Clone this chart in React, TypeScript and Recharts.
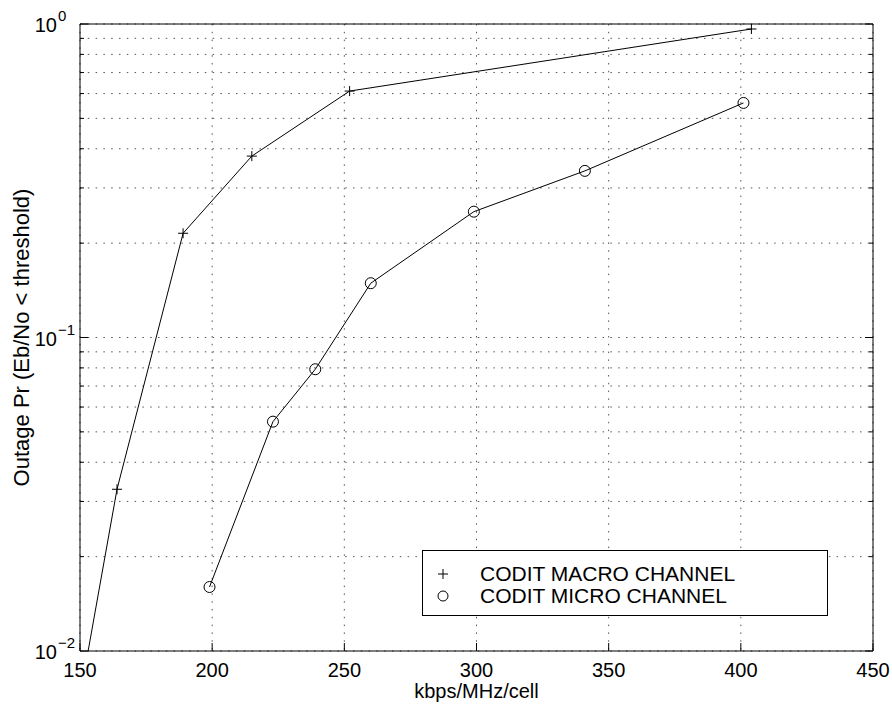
import { LineChart, Line, XAxis, YAxis, CartesianGrid, Legend } from "recharts";

const macroName = "CODIT MACRO CHANNEL";
const macroX = [152, 164, 189, 215, 252, 404];
const macroY = [0.0089, 0.0328, 0.215, 0.379, 0.611, 0.964];

const microName = "CODIT MICRO CHANNEL";
const microX = [199, 223, 239, 260, 299, 341, 401];
const microY = [0.016, 0.0539, 0.0792, 0.149, 0.252, 0.34, 0.56];

const xTicks = [150, 200, 250, 300, 350, 400, 450];
const yTicks = [
  0.01, 0.02, 0.03, 0.04, 0.05, 0.06, 0.07, 0.08, 0.09,
  0.1, 0.2, 0.3, 0.4, 0.5, 0.6, 0.7, 0.8, 0.9, 1,
];
const decades = [0.01, 0.1, 1];
const decadeExp = ["\u22122", "\u22121", "0"];

const macroData = macroX.map((x, i) => ({ x, y: macroY[i] }));
const microData = microX.map((x, i) => ({ x, y: microY[i] }));

const FONT = "'Liberation Sans', Arial, Helvetica, sans-serif";

const decadeIndex = (v: number) => decades.findIndex((d) => Math.abs(d - v) < 1e-9);

function LeftTick(props: any) {
  const { x, y, payload } = props;
  const di = decadeIndex(payload.value);
  const major = di >= 0;
  return (
    <g>
      <line x1={x} x2={x + (major ? 8 : 4)} y1={y} y2={y} stroke="#000" />
      {major && (
        <>
          <text x={x - 23} y={y + 8} textAnchor="end" fontSize={20} fill="#000">10</text>
          <text x={x - 22} y={y - 3} textAnchor="start" fontSize={15} fill="#000">{decadeExp[di]}</text>
        </>
      )}
    </g>
  );
}

function RightTick(props: any) {
  const { x, y, payload } = props;
  const major = decadeIndex(payload.value) >= 0;
  return <line x1={x} x2={x - (major ? 8 : 4)} y1={y} y2={y} stroke="#000" />;
}

function BottomTick(props: any) {
  const { x, y, payload } = props;
  return (
    <g>
      <line x1={x} x2={x} y1={y} y2={y - 8} stroke="#000" />
      <text x={x} y={y + 26} textAnchor="middle" fontSize={20} fill="#000">{payload.value}</text>
    </g>
  );
}

function TopTick(props: any) {
  const { x, y } = props;
  return <line x1={x} x2={x} y1={y} y2={y + 8} stroke="#000" />;
}

function PlusDot(props: any) {
  const { cx, cy, index } = props;
  if (cx == null || cy == null) return <g key={`p-${index}`} />;
  return (
    <path
      key={`p-${index}`}
      d={`M${cx - 5},${cy}H${cx + 5}M${cx},${cy - 5}V${cy + 5}`}
      stroke="#000"
      strokeWidth={1}
      fill="none"
    />
  );
}

function CircleDot(props: any) {
  const { cx, cy, index } = props;
  if (cx == null || cy == null) return <g key={`c-${index}`} />;
  return <circle key={`c-${index}`} cx={cx} cy={cy} r={5.5} stroke="#000" strokeWidth={1} fill="none" />;
}

function LegendBox(props: any) {
  const payload = props.payload || [];
  return (
    <div
      style={{
        position: "relative",
        boxSizing: "border-box",
        width: 406,
        height: 66,
        border: "1px solid #000",
        background: "#fff",
        fontFamily: FONT,
        fontSize: 21,
        color: "#000",
      }}
    >
      {payload.map((entry: any, i: number) => (
        <div key={entry.value} style={{ position: "absolute", left: 0, top: 12 + i * 22, height: 22, lineHeight: "22px", width: "100%" }}>
          <svg width={12} height={12} style={{ position: "absolute", left: 14, top: 5 }}>
            {entry.value === macroName ? (
              <path d="M1,6H11M6,1V11" stroke="#000" strokeWidth={1} fill="none" />
            ) : (
              <circle cx={6} cy={6} r={5} stroke="#000" strokeWidth={1} fill="none" />
            )}
          </svg>
          <span style={{ position: "absolute", left: 57, top: 0, whiteSpace: "nowrap" }}>{entry.value}</span>
        </div>
      ))}
    </div>
  );
}

export default function App() {
  return (
    <div
      style={{
        boxSizing: "border-box",
        width: 892,
        height: 704,
        paddingLeft: 8,
        paddingTop: 8,
        fontFamily: FONT,
        background: "#fff",
        overflow: "hidden",
      }}
    >
      <style>{"body{margin:0}"}</style>
      <LineChart width={884} height={696} margin={{ top: 0, right: 0, left: 0, bottom: 0 }}>
        <CartesianGrid stroke="#555" strokeDasharray="1.5 6.3" />
        <XAxis
          type="number"
          dataKey="x"
          domain={[150, 450]}
          ticks={xTicks}
          interval={0}
          allowDataOverflow
          height={53}
          tickSize={0}
          tickMargin={0}
          tickLine={false}
          axisLine={{ stroke: "#000" }}
          tick={<BottomTick />}
          label={{ value: "kbps/MHz/cell", position: "insideBottom", offset: 6, fontSize: 20, fill: "#000" }}
        />
        <XAxis
          xAxisId="top"
          orientation="top"
          type="number"
          domain={[150, 450]}
          ticks={xTicks}
          interval={0}
          allowDataOverflow
          height={16}
          tickSize={0}
          tickMargin={0}
          tickLine={false}
          axisLine={{ stroke: "#000" }}
          tick={<TopTick />}
        />
        <YAxis
          type="number"
          scale="log"
          domain={[0.01, 1]}
          ticks={yTicks}
          interval={0}
          allowDataOverflow
          width={72}
          tickSize={0}
          tickMargin={0}
          tickLine={false}
          axisLine={{ stroke: "#000" }}
          tick={<LeftTick />}
          label={{
            content: (p: any) => {
              const vb = p.viewBox || { x: 0, y: 16, width: 72, height: 627 };
              const cx = vb.x + 21;
              const cy = vb.y + vb.height / 2;
              return (
                <text x={cx} y={cy} transform={`rotate(-90 ${cx} ${cy})`} textAnchor="middle" fontSize={22} fill="#000">
                  Outage Pr (Eb/No &lt; threshold)
                </text>
              );
            },
          }}
        />
        <YAxis
          yAxisId="right"
          orientation="right"
          type="number"
          scale="log"
          domain={[0.01, 1]}
          ticks={yTicks}
          interval={0}
          allowDataOverflow
          width={19}
          tickSize={0}
          tickMargin={0}
          tickLine={false}
          axisLine={{ stroke: "#000" }}
          tick={<RightTick />}
        />
        <Line
          data={macroData}
          dataKey="y"
          name={macroName}
          type="linear"
          stroke="#000"
          strokeWidth={1}
          dot={PlusDot}
          activeDot={false}
          isAnimationActive={false}
        />
        <Line
          data={microData}
          dataKey="y"
          name={microName}
          type="linear"
          stroke="#000"
          strokeWidth={1}
          dot={CircleDot}
          activeDot={false}
          isAnimationActive={false}
        />
        <Legend
          layout="vertical"
          align="center"
          verticalAlign="middle"
          wrapperStyle={{ left: 414, top: 542, width: 406, height: 66 }}
          content={<LegendBox />}
        />
      </LineChart>
    </div>
  );
}
